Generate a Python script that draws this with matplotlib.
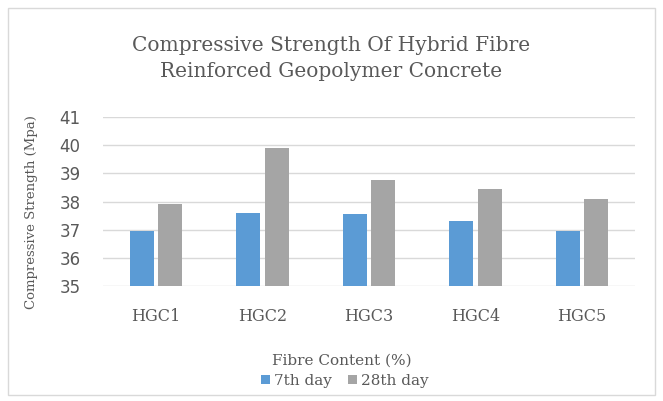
import numpy as np
import matplotlib.pyplot as plt
from matplotlib.patches import Rectangle

# data
mixes = ["HGC1", "HGC2", "HGC3", "HGC4", "HGC5"]
day7 = [36.95, 37.6, 37.55, 37.3, 36.95]
day28 = [37.9, 39.9, 38.75, 38.45, 38.1]
yticks = [35, 36, 37, 38, 39, 40, 41]

blue = "#5B9BD5"
grey = "#A5A5A5"
txt = "#595959"
serif = "DejaVu Serif"

fig = plt.figure(figsize=(6.63, 4.01), dpi=100)
# light outer frame of the chart
fig.patches.append(Rectangle((0.012, 0.015), 0.976, 0.965, transform=fig.transFigure,
                             fill=False, edgecolor="#D9D9D9", linewidth=1))

ax = fig.add_axes([0.155, 0.287, 0.803, 0.421])
x = np.arange(len(mixes))
w = 0.225
ax.bar(x - 0.135, day7, w, color=blue, label="7th day", zorder=3)
ax.bar(x + 0.135, day28, w, color=grey, label="28th day", zorder=3)

ax.set_ylim(35, 41)
ax.set_xlim(-0.5, len(mixes) - 0.5)
ax.set_yticks(yticks)
ax.set_xticks(x)
ax.set_xticklabels(mixes, family=serif, fontsize=11.5, color=txt)
ax.tick_params(axis="y", labelsize=12, colors=txt, length=0, pad=16)
ax.tick_params(axis="x", length=0, pad=16)
ax.grid(axis="y", color="#D9D9D9", linewidth=1, zorder=0)
for s in ax.spines.values():
    s.set_visible(False)

fig.text(0.5, 0.855, "Compressive Strength Of Hybrid Fibre\nReinforced Geopolymer Concrete",
         ha="center", va="center", family=serif, fontsize=14.5, color=txt,
         linespacing=1.45)
fig.text(0.048, 0.47, "Compressive Strength (Mpa)", rotation=90, ha="center", va="center",
         family=serif, fontsize=9.5, color=txt)
fig.text(0.515, 0.1, "Fibre Content (%)", ha="center", va="center",
         family=serif, fontsize=11, color=txt)

fig.legend(loc="center", bbox_to_anchor=(0.52, 0.05), ncol=2, frameon=False,
           prop={"family": serif, "size": 11}, labelcolor=txt,
           handlelength=0.6, handleheight=0.6, handletextpad=0.3, columnspacing=1.0)

fig.savefig("out.png", dpi=100)
